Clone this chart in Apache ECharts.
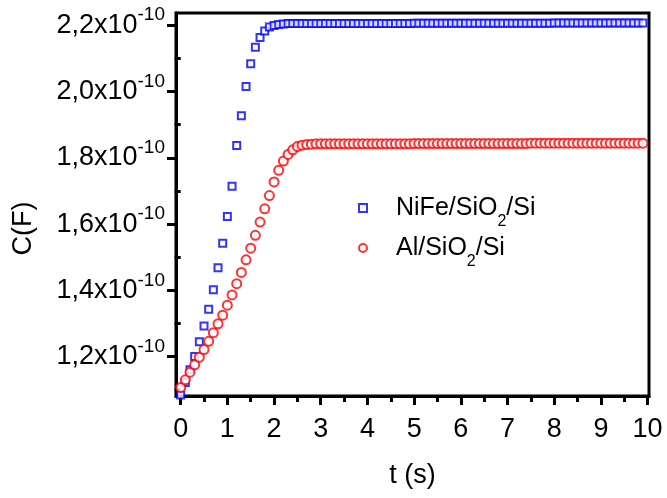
<!DOCTYPE html>
<html><head><meta charset="utf-8">
<script src="https://cdn.jsdelivr.net/npm/echarts@6/dist/echarts.min.js"></script>
<style>html,body{margin:0;padding:0;background:#fff}#c{width:667px;height:498px}</style>
</head><body><div id="c"></div>
<script>
// ---- data ----
const seriesNames = ['NiFe/SiO2/Si', 'Al/SiO2/Si'];
const timeS = [0.0,0.1,0.2,0.3,0.4,0.5,0.6,0.7,0.8,0.9,1.0,1.1,1.2,1.3,1.4,1.5,1.6,1.7,1.8,1.9,
  2.0,2.1,2.2,2.3,2.4,2.5,2.6,2.7,2.8,2.9,3.0,3.1,3.2,3.3,3.4,3.5,3.6,3.7,3.8,3.9,
  4.0,4.1,4.2,4.3,4.4,4.5,4.6,4.7,4.8,4.9,5.0,5.1,5.2,5.3,5.4,5.5,5.6,5.7,5.8,5.9,
  6.0,6.1,6.2,6.3,6.4,6.5,6.6,6.7,6.8,6.9,7.0,7.1,7.2,7.3,7.4,7.5,7.6,7.7,7.8,7.9,
  8.0,8.1,8.2,8.3,8.4,8.5,8.6,8.7,8.8,8.9,9.0,9.1,9.2,9.3,9.4,9.5,9.6,9.7,9.8,9.9];
// capacitance in units of 1e-10 F
const nifeC = [1.084,1.122,1.160,1.200,1.245,1.292,1.343,1.402,1.468,1.542,1.623,1.714,1.837,1.927,2.015,2.084,2.134,2.163,2.183,2.195,
  2.199,2.202,2.204,2.205,2.205,2.205,2.205,2.205,2.205,2.205,2.205,2.205,2.205,2.205,2.205,2.205,2.205,2.205,2.205,2.205,
  2.205,2.205,2.205,2.205,2.205,2.205,2.205,2.205,2.205,2.205,2.206,2.206,2.206,2.206,2.206,2.206,2.206,2.206,2.206,2.206,
  2.206,2.206,2.206,2.206,2.206,2.206,2.206,2.206,2.206,2.206,2.206,2.206,2.206,2.206,2.206,2.206,2.206,2.206,2.206,2.206,
  2.207,2.207,2.207,2.207,2.207,2.207,2.207,2.207,2.207,2.207,2.207,2.207,2.207,2.207,2.207,2.207,2.207,2.207,2.207,2.207];
const alC = [1.107,1.130,1.153,1.175,1.198,1.221,1.246,1.272,1.299,1.325,1.355,1.386,1.420,1.454,1.492,1.527,1.566,1.606,1.646,1.686,
  1.727,1.762,1.790,1.810,1.824,1.834,1.838,1.840,1.841,1.842,1.842,1.842,1.842,1.842,1.842,1.842,1.842,1.842,1.842,1.842,
  1.842,1.842,1.842,1.842,1.842,1.842,1.842,1.842,1.842,1.842,1.843,1.843,1.843,1.843,1.843,1.843,1.843,1.843,1.843,1.843,
  1.843,1.843,1.843,1.843,1.843,1.843,1.843,1.843,1.843,1.843,1.843,1.843,1.843,1.843,1.843,1.844,1.844,1.844,1.844,1.844,
  1.844,1.844,1.844,1.844,1.844,1.844,1.844,1.844,1.844,1.844,1.844,1.844,1.844,1.844,1.844,1.844,1.844,1.844,1.844,1.844];
const xTickValues = [0,1,2,3,4,5,6,7,8,9,10];
const xMinorTickValues = [0.5,1.5,2.5,3.5,4.5,5.5,6.5,7.5,8.5,9.5];
const yTickValues = [1.2,1.4,1.6,1.8,2.0,2.2];
const yTickLabels = ['1,2','1,4','1,6','1,8','2,0','2,2'];
const yMinorTickValues = [1.1,1.3,1.5,1.7,1.9,2.1];
const yExponent = '-10';
const xName = 't (s)';
const yName = 'C(F)';

// ---- chart ----
const FONT = '"Liberation Sans", Arial, sans-serif';
const xRange = {min: -0.1, max: 10.03};
const yRange = {min: 1.081, max: 2.237};
const chart = echarts.init(document.getElementById('c'), null, {renderer: 'canvas'});
const tickStyle = {color: '#000', width: 3};
chart.setOption({
  animation: false,
  backgroundColor: '#fff',
  grid: {left: 176, right: 18, top: 13, bottom: 102, show: true, borderColor: '#000', borderWidth: 3,
         backgroundColor: 'transparent', containLabel: false, outerBoundsMode: 'none'},
  legend: {
    orient: 'vertical', left: 358, top: 186, padding: 0, itemGap: -4,
    itemWidth: 8, itemHeight: 8,
    data: seriesNames,
    formatter: n => '{p|' + n.replace('O2', 'O}{s|2}{m|') + '}',
    textStyle: {
      color: '#000', fontFamily: FONT,
      rich: {
        p: {fontSize: 25, lineHeight: 28, fontFamily: FONT, color: '#000', padding: [0, 0, 0, 24]},
        m: {fontSize: 25, lineHeight: 28, fontFamily: FONT, color: '#000'},
        s: {fontSize: 16, lineHeight: 16, fontFamily: FONT, color: '#000', padding: [28, 0, 0, 0]}
      }
    }
  },
  xAxis: [{
    type: 'value', position: 'bottom', min: xRange.min, max: xRange.max,
    name: xName, nameLocation: 'middle', nameGap: 66, nameMoveOverlap: false,
    nameTextStyle: {fontSize: 27, fontFamily: FONT, color: '#000'},
    axisLine: {show: true, onZero: false, lineStyle: {color: '#000', width: 3}},
    axisTick: {show: true, inside: false, length: 9, customValues: xTickValues, lineStyle: tickStyle},
    axisLabel: {show: true, margin: 20, customValues: xTickValues, fontSize: 27, fontFamily: FONT, color: '#000',
                formatter: v => String(v)},
    splitLine: {show: false}
  }, {
    type: 'value', position: 'bottom', min: xRange.min, max: xRange.max,
    axisLine: {show: false},
    axisTick: {show: true, inside: false, length: 6, customValues: xMinorTickValues, lineStyle: tickStyle},
    axisLabel: {show: false}, splitLine: {show: false}
  }],
  yAxis: [{
    type: 'value', position: 'left', min: yRange.min, max: yRange.max,
    name: yName, nameLocation: 'middle', nameGap: 139, nameRotate: 90, nameMoveOverlap: false,
    nameTextStyle: {fontSize: 27, fontFamily: FONT, color: '#000', padding: [0, 48, 0, 0]},
    axisLine: {show: true, onZero: false, lineStyle: {color: '#000', width: 3}},
    axisTick: {show: true, inside: false, length: 9, customValues: yTickValues, lineStyle: tickStyle},
    axisLabel: {
      show: true, margin: 11, customValues: yTickValues, hideOverlap: false,
      formatter: v => {
        const i = yTickValues.findIndex(t => Math.abs(t - v) < 1e-9);
        return '{m|' + yTickLabels[i] + 'x10}{e|' + yExponent + '}';
      },
      rich: {
        m: {fontSize: 27, lineHeight: 30, fontFamily: FONT, color: '#000'},
        e: {fontSize: 19, lineHeight: 19, fontFamily: FONT, color: '#000', padding: [0, 0, 20, 0]}
      }
    },
    splitLine: {show: false}
  }, {
    type: 'value', position: 'left', min: yRange.min, max: yRange.max,
    axisLine: {show: false},
    axisTick: {show: true, inside: false, length: 6, customValues: yMinorTickValues, lineStyle: tickStyle},
    axisLabel: {show: false}, splitLine: {show: false}
  }],
  series: [{
    name: seriesNames[0], type: 'scatter', xAxisIndex: 0, yAxisIndex: 0,
    symbol: 'emptyRect', symbolSize: 7,
    itemStyle: {color: '#0000ff', borderColor: '#0000ff', borderWidth: 1},
    data: timeS.map((t, i) => [t, nifeC[i]])
  }, {
    name: seriesNames[1], type: 'scatter', xAxisIndex: 0, yAxisIndex: 0,
    symbol: 'emptyCircle', symbolSize: 9,
    itemStyle: {color: '#ff0000', borderColor: '#ff0000', borderWidth: 1},
    data: timeS.map((t, i) => [t, alC[i]])
  }]
});
</script>
</body></html>
